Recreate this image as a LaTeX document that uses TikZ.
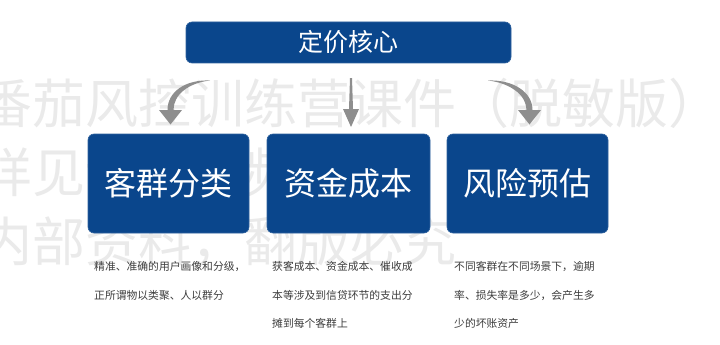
\documentclass[tikz,border=0pt]{standalone}
\usepackage{fontspec}
\setmainfont{Noto Sans CJK SC}
\usetikzlibrary{arrows.meta,calc}
\definecolor{boxblue}{HTML}{0A468C}
\definecolor{arrowgray}{HTML}{8E8E8E}
\definecolor{wmgray}{HTML}{EAEAEA}
\definecolor{txtgray}{HTML}{3C3C3C}
\begin{document}
\begin{tikzpicture}[x=1pt,y=-1pt,
  bluebox/.style={fill=boxblue, draw=boxblue!85!white, line width=0.6pt, rounded corners=6pt, inner sep=0pt},
  bigtext/.style={text=white, font=\fontsize{32}{32}\selectfont},
  wmark/.style={anchor=base west, inner sep=0pt, text=wmgray, font=\fontsize{53}{53}\selectfont},
  desc/.style={anchor=base west, inner sep=0pt, text=txtgray, font=\fontsize{10.8}{10.8}\selectfont},
  garrow/.style={fill=arrowgray, draw=none}]
\path[use as bounding box] (0,0) rectangle (720,345);
\clip (0,0) rectangle (720,345);
% watermark
\node[wmark] (wm1) at (-21,123) {番茄风控训练营课件（脱敏版）};
\node[wmark] (wm2) at (-21,192) {详见课程视频资料};
\node[wmark] (wm3) at (-21,261) {内部资料，翻版必究};
% top box
\node[bluebox, minimum width=325pt, minimum height=41pt, text=white,
      font=\fontsize{25}{25}\selectfont] (core) at (348.5,42.5) {定价核心};
% lower boxes
\node[bluebox, minimum width=161pt, minimum height=99pt, bigtext] (b1) at (168.5,183.5) {客群分类};
\node[bluebox, minimum width=163pt, minimum height=99pt, bigtext] (b2) at (348.5,183.5) {资金成本};
\node[bluebox, minimum width=161pt, minimum height=99pt, bigtext] (b3) at (527.5,183.5) {风险预估};
% arrow coordinates
\coordinate (ls) at (210,80.5);
\coordinate (lt) at (170.5,124.5);
\coordinate (ms) at (351,78);
\coordinate (mt) at (351,127);
\coordinate (rs) at (488,80.5);
\coordinate (rt) at (529.5,124.5);
% left curved arrow
\path[garrow] (ls) .. controls (185,79.5) and (167.5,92) .. (167.5,110)
  -- (159,110) -- (lt) -- (182,110) -- (173.5,110)
  .. controls (173.5,95) and (188,83) .. (ls) -- cycle;
% middle arrow
\path[garrow] ($(ms)+(-1,0)$) -- (349,109) -- (343,109) -- (mt) -- (359,109) -- (353,109) -- ($(ms)+(1,0)$) -- cycle;
% right curved arrow
\path[garrow] (rs) .. controls (513,79.5) and (532.5,92) .. (532.5,110)
  -- (541,110) -- (rt) -- (518,110) -- (526.5,110)
  .. controls (526.5,95) and (510,83) .. (rs) -- cycle;
% descriptions
\node[desc] (d11) at (94,270) {精准、准确的用户画像和分级，};
\node[desc] (d12) at (94,299) {正所谓物以类聚、人以群分};
\node[desc] (d21) at (272,270) {获客成本、资金成本、催收成};
\node[desc] (d22) at (272,299) {本等涉及到信贷环节的支出分};
\node[desc] (d23) at (272,327) {摊到每个客群上};
\node[desc] (d31) at (454,270) {不同客群在不同场景下，逾期};
\node[desc] (d32) at (454,299) {率、损失率是多少，会产生多};
\node[desc] (d33) at (454,327) {少的坏账资产};
\end{tikzpicture}
\end{document}
